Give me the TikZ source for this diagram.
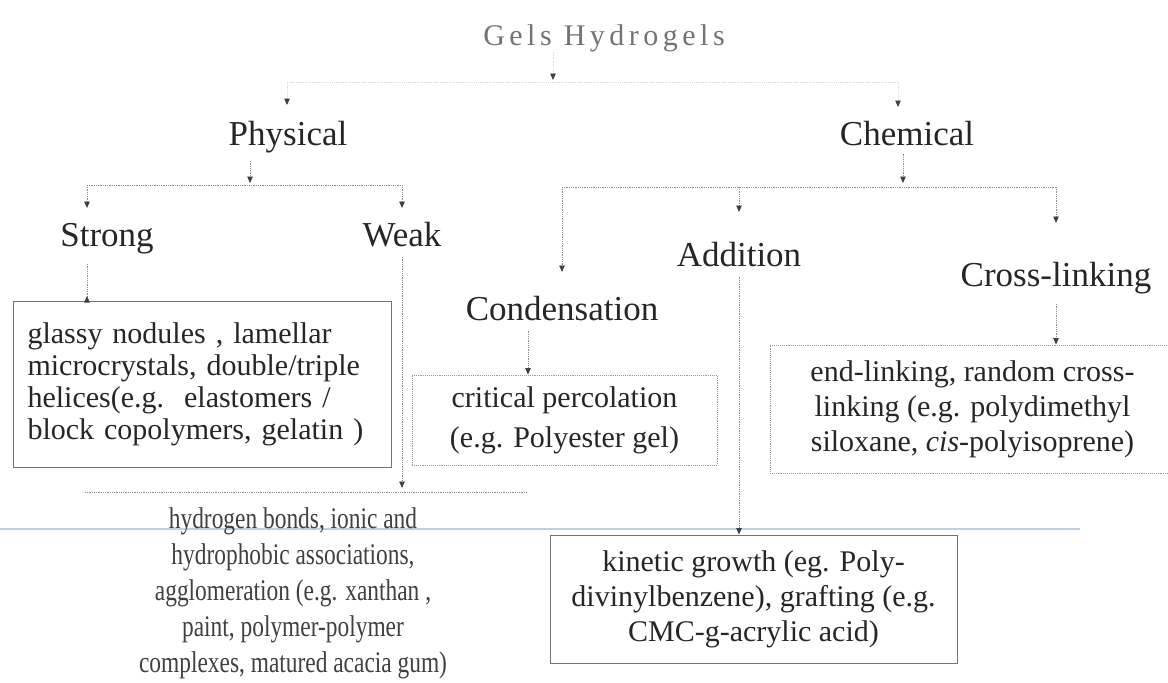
\documentclass[tikz,border=0pt]{standalone}
\usepackage{fontspec}
\setmainfont{Liberation Serif}
\newfontfamily\spacedserif[LetterSpace=15]{Liberation Serif}
\newfontfamily\narrowserif[FakeStretch=0.78]{Liberation Serif}
\usetikzlibrary{arrows.meta,positioning}

\tikzset{
  conn/.style={densely dotted, draw=black!45, line width=0.8pt},
  faintconn/.style={densely dotted, draw=black!15, line width=0.8pt},
  arrowline/.style={conn, -{Triangle[width=5.5pt,length=6.5pt,color=black!75]}},
  lvl/.style={font=\fontsize{35}{40}\selectfont, text=black!85, inner sep=0pt, anchor=base},
  headtext/.style={font=\spacedserif\fontsize{30}{34}\selectfont, text=black!55, inner sep=0pt, anchor=base},
  infobox/.style={font=\fontsize{30}{35}\selectfont, text=black!85, align=center, inner sep=0pt},
  solidbox/.style={infobox, draw=black!55, line width=1pt},
  dotbox/.style={infobox, draw=black!40, densely dotted, line width=0.9pt},
}

\begin{document}
\begin{tikzpicture}[x=1pt,y=-1pt]
  \useasboundingbox (0,0) rectangle (1168,683);

  % scan line
  \draw[draw={rgb,255:red,190;green,208;blue,228}, line width=1.3pt] (0,529) -- (1080,529);

  % Levels
  \node[headtext] (gels) at (604,45) {Gels Hydrogels};
  \node[lvl] (phys) at (288,145) {Physical};
  \node[lvl] (chem) at (907,145) {Chemical};
  \node[lvl] (strong) at (107,246) {Strong};
  \node[lvl] (weak) at (402,246) {Weak};
  \node[lvl] (add) at (739,266) {Addition};
  \node[lvl] (cross) at (1056,286) {Cross-linking};
  \node[lvl] (cond) at (562,320) {Condensation};

  % Boxes
  \node[solidbox, font=\fontsize{30}{32}\selectfont, anchor=north west,
        minimum width=378pt, minimum height=166pt,
        text width=350pt, align=left] (sbox) at (13,301)
    {glassy nodules , lamellar\\ microcrystals, double/triple\\
     helices(e.g.\ \ elastomers /\\ block copolymers, gelatin )};
  \node[dotbox, font=\fontsize{30}{40}\selectfont,
        minimum width=305pt, minimum height=90pt] (cbox) at (564.5,420)
    {critical percolation\\ (e.g. Polyester gel)};
  \node[dotbox, minimum width=405pt, minimum height=128pt] (ebox) at (972.5,409)
    {\raisebox{-8pt}{\parbox{400pt}{\centering end-linking, random cross-\\ linking (e.g. polydimethyl\\
     siloxane, \textit{cis}-polyisoprene)}}};
  \node[solidbox, minimum width=407pt, minimum height=128pt] (kbox) at (753.5,599)
    {kinetic growth (eg. Poly-\\ divinylbenzene), grafting (e.g.\\ CMC-g-acrylic acid)};
  \node[infobox, font=\narrowserif\fontsize{30}{36}\selectfont, text=black!75,
        anchor=north] (wtext) at (293,507)
    {hydrogen bonds, ionic and\\ hydrophobic associations,\\
     agglomeration (e.g. xanthan ,\\ paint, polymer-polymer\\
     complexes, matured acacia gum)};

  % Bus points
  \coordinate (gb) at (553,80);
  \coordinate (gbL) at (287,82);
  \coordinate (gbR) at (898,82);
  \coordinate (pb) at (250,183);
  \coordinate (pbL) at (87,185);
  \coordinate (pbR) at (402,185);
  \coordinate (cb) at (903,183);
  \coordinate (cbL) at (562,187);
  \coordinate (cbM) at (739,187);
  \coordinate (cbR) at (1056,187);
  \coordinate (wb) at (402,488);

  % Gels
  \draw[arrowline, draw=black!15] (gels.south -| gb) -- (gb);
  \draw[faintconn] (gbL) -- (gbR);
  \draw[arrowline, draw=black!15] (gbL) -- (gbL |- 0,105);
  \draw[arrowline, draw=black!15] (gbR) -- (gbR |- 0,107);

  % Physical
  \draw[arrowline] (phys.south -| pb) ++(0,8) -- (pb);
  \draw[conn] (pbL) -- (pbR);
  \draw[arrowline] (pbL) -- (pbL |- 0,208);
  \draw[arrowline] (pbR) -- (pbR |- 0,208);
  \draw[arrowline] (strong.south -| pbL) ++(0,10) -- (sbox.north -| pbL) ++(0,-5);
  \draw[arrowline] (weak.south -| pbR) ++(0,10) -- (wb);
  \draw[conn] (85,492) -- (527,492);

  % Chemical
  \draw[arrowline] (chem.south -| cb) ++(0,8) -- (cb);
  \draw[conn] (cbL) -- (cbR);
  \draw[arrowline] (cbL) -- (cbL |- 0,272);
  \draw[arrowline] (cbM) -- (cbM |- 0,212);
  \draw[arrowline] (cbR) -- (cbR |- 0,223);
  \draw[arrowline] (cond.south -| 528,0) ++(0,10) -- (cbox.north -| 528,0);
  \draw[arrowline] (add.south -| cbM) ++(0,10) -- (kbox.north -| cbM);
  \draw[arrowline] (cross.south -| cbR) ++(0,10) -- (ebox.north -| cbR);
\end{tikzpicture}
\end{document}
